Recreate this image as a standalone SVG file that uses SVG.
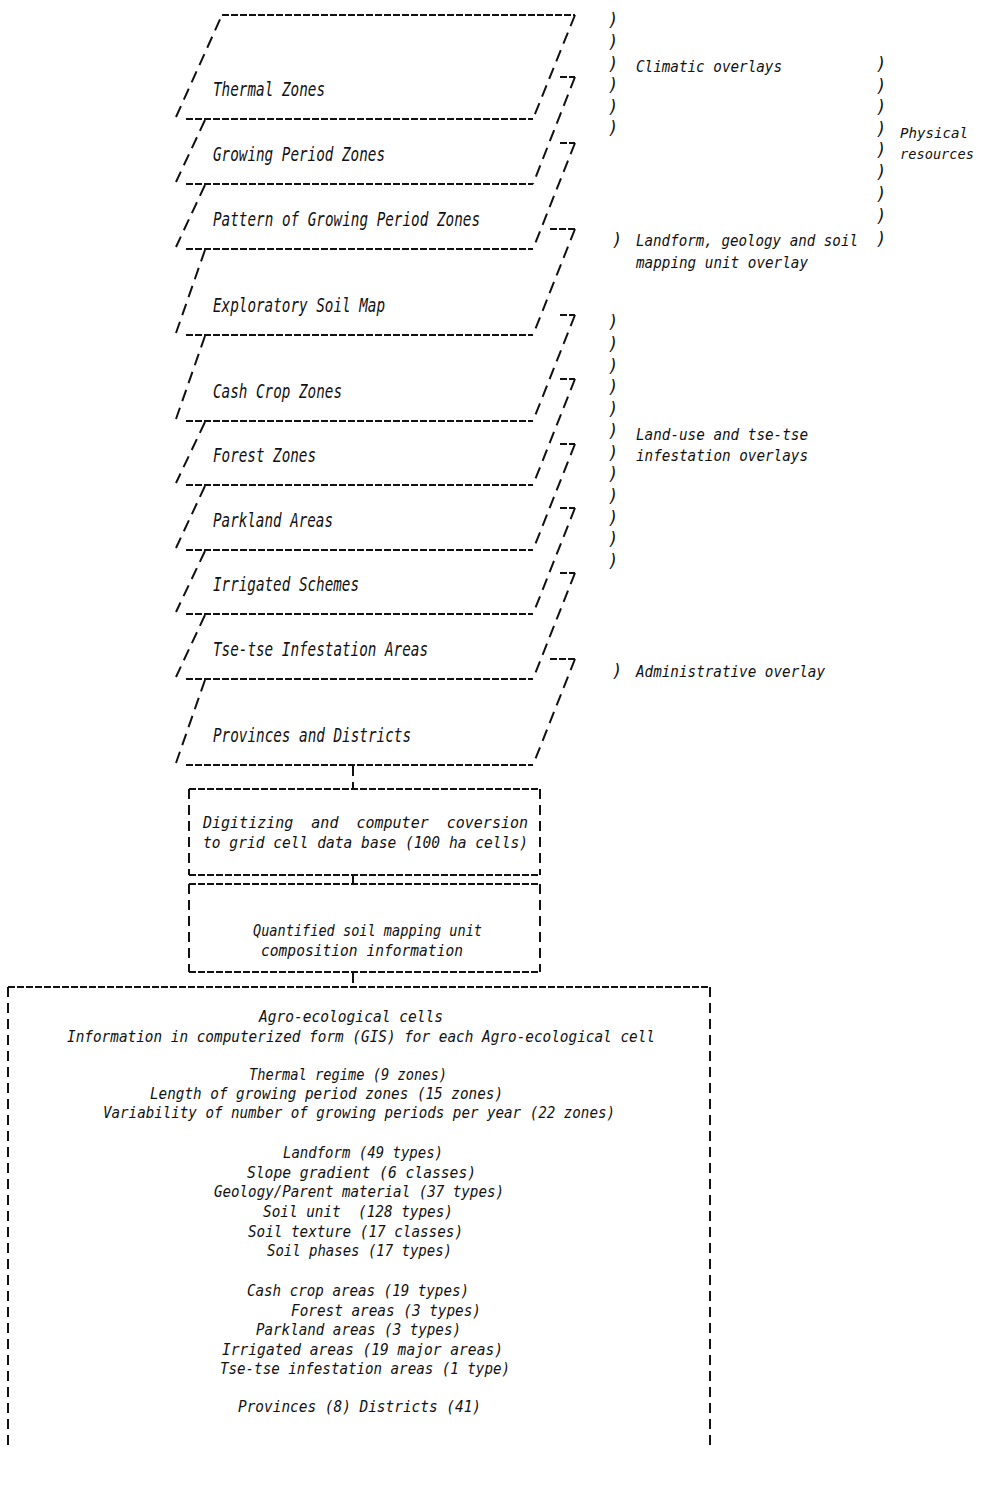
<svg xmlns="http://www.w3.org/2000/svg" width="982" height="1496" viewBox="0 0 982 1496">
<style>
  .h{fill:none;stroke:#111;stroke-width:2;stroke-dasharray:7 2}
  .s{fill:none;stroke:#111;stroke-width:2;stroke-dasharray:12 7}
  .v{fill:none;stroke:#111;stroke-width:2;stroke-dasharray:10 6}
  text{font-family:"DejaVu Sans Mono","Liberation Mono",monospace;font-style:italic;fill:#111;white-space:pre}
  .l{font-size:19px}
  .t{font-size:16.5px}
  .r{font-size:15px}
  .q{font-size:14.5px}
  .b{font-size:16.5px}
  .p{font-size:17px;text-anchor:middle}
</style>
<rect width="982" height="1496" fill="#fff"/>

<g id="layer-thermal">
  <path class="s" d="M176,117 L222,15 M575,15 L533,119"/>
  <path class="h" d="M222,15 H575 M186,119 H533"/>
  <text class="l" x="213" y="96" textLength="112" lengthAdjust="spacingAndGlyphs">Thermal Zones</text>
</g>
<g id="layer-growing">
  <path class="s" d="M205,120 L176,182 M575,77 L533,184"/>
  <path class="h" d="M186,184 H533 M560,77 H575"/>
  <text class="l" x="213" y="161" textLength="172" lengthAdjust="spacingAndGlyphs">Growing Period Zones</text>
</g>
<g id="layer-pattern">
  <path class="s" d="M205,185 L176,247 M575,143 L533,249"/>
  <path class="h" d="M186,249 H533 M560,143 H575"/>
  <text class="l" x="213" y="226" textLength="267" lengthAdjust="spacingAndGlyphs">Pattern of Growing Period Zones</text>
</g>
<g id="layer-soil">
  <path class="s" d="M205,250 L176,333 M575,229 L533,335"/>
  <path class="h" d="M186,335 H533 M550,229 H575"/>
  <text class="l" x="213" y="312" textLength="172" lengthAdjust="spacingAndGlyphs">Exploratory Soil Map</text>
</g>
<g id="layer-cash">
  <path class="s" d="M205,336 L176,419 M575,315 L533,421"/>
  <path class="h" d="M186,421 H533 M560,315 H575"/>
  <text class="l" x="213" y="398" textLength="129" lengthAdjust="spacingAndGlyphs">Cash Crop Zones</text>
</g>
<g id="layer-forest">
  <path class="s" d="M205,422 L176,483 M575,379 L533,485"/>
  <path class="h" d="M186,485 H533 M560,379 H575"/>
  <text class="l" x="213" y="462" textLength="103" lengthAdjust="spacingAndGlyphs">Forest Zones</text>
</g>
<g id="layer-parkland">
  <path class="s" d="M205,486 L176,548 M575,444 L533,550"/>
  <path class="h" d="M186,550 H533 M560,444 H575"/>
  <text class="l" x="213" y="527" textLength="120" lengthAdjust="spacingAndGlyphs">Parkland Areas</text>
</g>
<g id="layer-irrigated">
  <path class="s" d="M205,551 L176,612 M575,508 L533,614"/>
  <path class="h" d="M186,614 H533 M560,508 H575"/>
  <text class="l" x="213" y="591" textLength="146" lengthAdjust="spacingAndGlyphs">Irrigated Schemes</text>
</g>
<g id="layer-tsetse">
  <path class="s" d="M205,615 L176,677 M575,573 L533,679"/>
  <path class="h" d="M186,679 H533 M560,573 H575"/>
  <text class="l" x="213" y="656" textLength="215" lengthAdjust="spacingAndGlyphs">Tse-tse Infestation Areas</text>
</g>
<g id="layer-provinces">
  <path class="s" d="M205,680 L176,763 M575,659 L533,765"/>
  <path class="h" d="M186,765 H533 M550,659 H575"/>
  <text class="l" x="213" y="742" textLength="198" lengthAdjust="spacingAndGlyphs">Provinces and Districts</text>
</g>

<g id="label-climatic">
  <text class="p" x="613" y="26">)</text><text class="p" x="613" y="48">)</text><text class="p" x="613" y="70">)</text>
  <text class="p" x="613" y="91">)</text><text class="p" x="613" y="113">)</text><text class="p" x="613" y="134">)</text>
  <text class="r" x="636" y="72" textLength="146" lengthAdjust="spacingAndGlyphs">Climatic overlays</text>
</g>
<g id="label-physical">
  <text class="p" x="881" y="70">)</text><text class="p" x="881" y="92">)</text><text class="p" x="881" y="113">)</text>
  <text class="p" x="881" y="135">)</text><text class="p" x="881" y="156">)</text><text class="p" x="881" y="178">)</text>
  <text class="p" x="881" y="200">)</text><text class="p" x="881" y="222">)</text><text class="p" x="881" y="245">)</text>
  <text class="q" x="900" y="138" textLength="68" lengthAdjust="spacingAndGlyphs">Physical</text>
  <text class="q" x="900" y="159" textLength="74" lengthAdjust="spacingAndGlyphs">resources</text>
</g>
<g id="label-landform">
  <text class="p" x="617" y="246">)</text>
  <text class="r" x="636" y="246" textLength="222" lengthAdjust="spacingAndGlyphs">Landform, geology and soil</text>
  <text class="r" x="636" y="268" textLength="172" lengthAdjust="spacingAndGlyphs">mapping unit overlay</text>
</g>
<g id="label-landuse">
  <text class="p" x="613" y="328">)</text><text class="p" x="613" y="350">)</text><text class="p" x="613" y="372">)</text>
  <text class="p" x="613" y="393">)</text><text class="p" x="613" y="415">)</text><text class="p" x="613" y="437">)</text>
  <text class="p" x="613" y="459">)</text><text class="p" x="613" y="480">)</text><text class="p" x="613" y="502">)</text>
  <text class="p" x="613" y="524">)</text><text class="p" x="613" y="545">)</text><text class="p" x="613" y="567">)</text>
  <text class="r" x="636" y="440" textLength="172" lengthAdjust="spacingAndGlyphs">Land-use and tse-tse</text>
  <text class="r" x="636" y="461" textLength="172" lengthAdjust="spacingAndGlyphs">infestation overlays</text>
</g>
<g id="label-admin">
  <text class="p" x="617" y="677">)</text>
  <text class="r" x="636" y="677" textLength="189" lengthAdjust="spacingAndGlyphs">Administrative overlay</text>
</g>

<g id="connectors">
  <path class="v" d="M353,766 V789 M353,876 V884 M353,973 V987"/>
</g>

<g id="box-digitizing">
  <path class="h" d="M189,789 H540 M189,875 H540"/>
  <path class="v" d="M189,789 V875 M540,789 V875"/>
  <text class="t" x="203" y="828" textLength="325" lengthAdjust="spacingAndGlyphs" xml:space="preserve">Digitizing  and  computer  coversion</text>
  <text class="t" x="203" y="848" textLength="325" lengthAdjust="spacingAndGlyphs">to grid cell data base (100 ha cells)</text>
</g>
<g id="box-quantified">
  <path class="h" d="M189,884 H540 M189,972 H540"/>
  <path class="v" d="M189,884 V972 M540,884 V972"/>
  <text class="t" x="253" y="936" textLength="229" lengthAdjust="spacingAndGlyphs">Quantified soil mapping unit</text>
  <text class="t" x="261" y="956" textLength="202" lengthAdjust="spacingAndGlyphs">composition information</text>
</g>
<g id="box-cells">
  <path class="h" d="M8,987 H710"/>
  <path class="v" d="M8,987 V1448 M710,987 V1448"/>
  <text class="b" x="259" y="1022" textLength="184" lengthAdjust="spacingAndGlyphs">Agro-ecological cells</text>
  <text class="b" x="67" y="1042" textLength="588" lengthAdjust="spacingAndGlyphs">Information in computerized form (GIS) for each Agro-ecological cell</text>
  <text class="b" x="249" y="1080" textLength="198" lengthAdjust="spacingAndGlyphs">Thermal regime (9 zones)</text>
  <text class="b" x="150" y="1099" textLength="353" lengthAdjust="spacingAndGlyphs">Length of growing period zones (15 zones)</text>
  <text class="b" x="103" y="1118" textLength="512" lengthAdjust="spacingAndGlyphs">Variability of number of growing periods per year (22 zones)</text>
  <text class="b" x="283" y="1158" textLength="160" lengthAdjust="spacingAndGlyphs">Landform (49 types)</text>
  <text class="b" x="247" y="1178" textLength="229" lengthAdjust="spacingAndGlyphs">Slope gradient (6 classes)</text>
  <text class="b" x="214" y="1197" textLength="290" lengthAdjust="spacingAndGlyphs">Geology/Parent material (37 types)</text>
  <text class="b" x="263" y="1217" textLength="190" lengthAdjust="spacingAndGlyphs" xml:space="preserve">Soil unit  (128 types)</text>
  <text class="b" x="248" y="1237" textLength="215" lengthAdjust="spacingAndGlyphs">Soil texture (17 classes)</text>
  <text class="b" x="267" y="1256" textLength="185" lengthAdjust="spacingAndGlyphs">Soil phases (17 types)</text>
  <text class="b" x="247" y="1296" textLength="222" lengthAdjust="spacingAndGlyphs">Cash crop areas (19 types)</text>
  <text class="b" x="291" y="1316" textLength="190" lengthAdjust="spacingAndGlyphs">Forest areas (3 types)</text>
  <text class="b" x="256" y="1335" textLength="205" lengthAdjust="spacingAndGlyphs">Parkland areas (3 types)</text>
  <text class="b" x="222" y="1355" textLength="281" lengthAdjust="spacingAndGlyphs">Irrigated areas (19 major areas)</text>
  <text class="b" x="220" y="1374" textLength="290" lengthAdjust="spacingAndGlyphs">Tse-tse infestation areas (1 type)</text>
  <text class="b" x="238" y="1412" textLength="243" lengthAdjust="spacingAndGlyphs">Provinces (8) Districts (41)</text>
</g>
</svg>
